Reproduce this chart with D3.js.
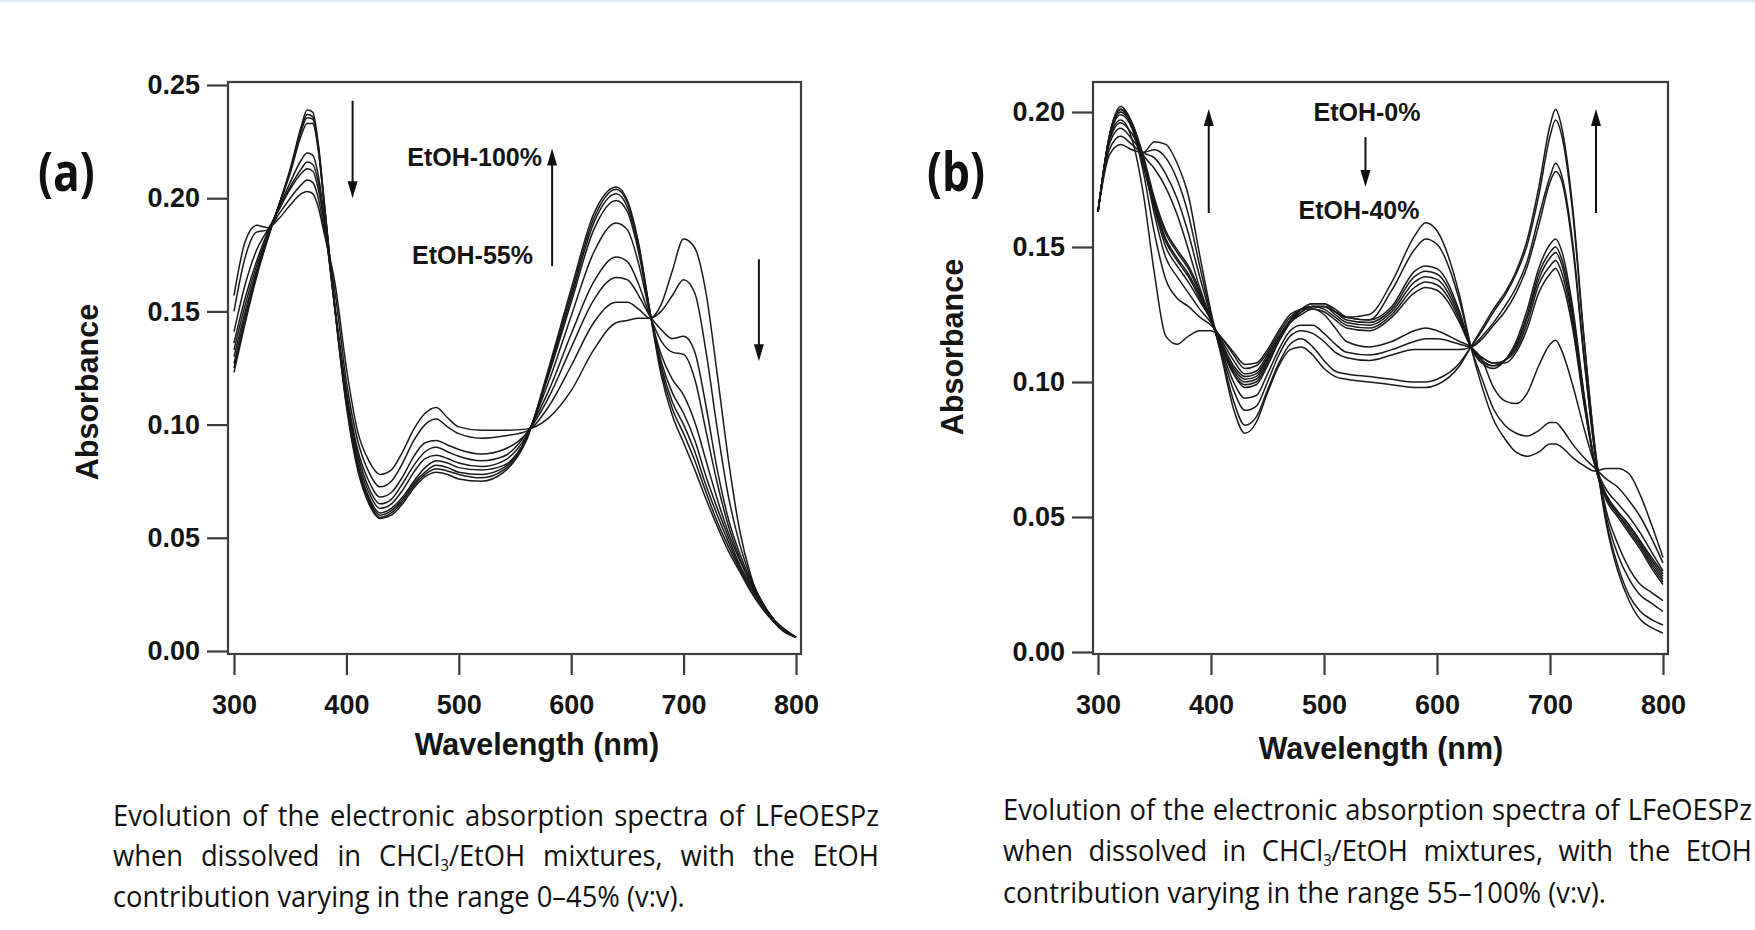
<!DOCTYPE html>
<html>
<head>
<meta charset="utf-8">
<script src="https://cdn.jsdelivr.net/npm/d3@7/dist/d3.min.js"></script>
<style>
  body { margin: 0; background: #fff; }
  .tick text { font-family: "Liberation Sans", Arial, sans-serif; font-weight: bold; font-size: 27px; fill: #151515; }
  .axisTitle { font-family: "Liberation Sans", Arial, sans-serif; font-weight: bold; font-size: 30.5px; fill: #151515; }
  .note { font-family: "Liberation Sans", Arial, sans-serif; font-weight: bold; font-size: 25px; fill: #151515; }
  .panelLabel { font-family: "Open Sans", "Liberation Sans", sans-serif; font-weight: bold; font-size: 54px; fill: #111; }
  .caption { font-family: "Open Sans", "Noto Sans", sans-serif; font-size: 29.5px; fill: #111; }
</style>
</head>
<body>
<svg id="fig" width="1755" height="930"></svg>
<script>
// ---- panel (a) data ----
const wavelengthsA = [300, 310, 320, 330, 340, 350, 360, 365, 370, 375, 380, 390, 400, 410, 420, 430, 440, 450, 460, 470, 480, 490, 500, 520, 540,
    560, 580, 600, 620, 640, 650, 660, 670, 680, 690,
    700, 710, 720, 730, 740, 750, 760, 780, 800]

const spectraA = [
    [.123, .145, .165, .182, .197, .213, .232, .239, .238, .224, .200, .150, .108, .080, .065, .0585, .060, .065, .072, .077, .079, .078, .076, .075, .079,
        .093, .125, .160, .193, .205, .199, .180, .150, .122, .104,
        .092, .080, .067, .055, .044, .035, .026, .013, .006],
    [.125, .146, .166, .182, .197, .212, .231, .237, .236, .223, .199, .150, .109, .081, .066, .059, .061, .066, .073, .078, .0805, .0795, .078, .0765, .080,
        .093, .124, .158, .191, .204, .198, .179, .150, .124, .107,
        .096, .084, .070, .057, .046, .036, .027, .013, .006],
    [.127, .148, .167, .183, .197, .212, .230, .2355, .235, .222, .199, .151, .110, .082, .067, .060, .062, .067, .074, .079, .082, .081, .079, .078, .081,
        .094, .123, .156, .189, .202, .196, .178, .150, .126, .110,
        .100, .088, .073, .060, .048, .037, .028, .014, .006],
    [.130, .150, .168, .183, .197, .211, .228, .233, .233, .221, .198, .151, .111, .083, .068, .061, .063, .068, .075, .081, .084, .083, .081, .080, .082,
        .094, .122, .154, .186, .199, .194, .176, .150, .128, .114,
        .105, .093, .077, .063, .050, .038, .029, .014, .006],
    [.133, .153, .170, .184, .196, .207, .217, .220, .219, .210, .193, .150, .112, .085, .070, .063, .065, .071, .079, .085, .0865, .085, .083, .0815, .084,
        .095, .119, .148, .176, .189, .186, .171, .149, .131, .120,
        .113, .101, .084, .067, .052, .040, .030, .014, .006],
    [.136, .156, .172, .185, .195, .205, .213, .216, .215, .207, .191, .150, .113, .087, .072, .065, .067, .074, .082, .088, .090, .088, .086, .084, .086,
        .096, .115, .140, .163, .174, .172, .162, .148, .137, .132,
        .131, .120, .097, .074, .055, .041, .030, .014, .006],
    [.141, .162, .177, .186, .195, .204, .211, .213, .212, .204, .190, .151, .115, .089, .075, .068, .070, .077, .086, .092, .093, .091, .089, .087, .089,
        .096, .112, .134, .155, .165, .164, .157, .148, .142, .138,
        .139, .132, .108, .080, .058, .043, .031, .014, .006],
    [.150, .174, .185, .186, .193, .200, .206, .208, .207, .200, .187, .158, .119, .093, .079, .0725, .075, .083, .093, .100, .1025, .099, .096, .094, .095,
        .097, .108, .126, .145, .154, .154, .151, .147, .150, .157,
        .164, .158, .132, .098, .068, .047, .032, .014, .006],
    [.157, .181, .188, .187, .191, .197, .202, .203, .202, .196, .185, .162, .125, .097, .084, .078, .080, .088, .098, .105, .1076, .103, .099, .0975, .0975,
        .098, .103, .115, .133, .145, .146, .147, .147, .153, .168,
        .182, .178, .158, .122, .084, .053, .033, .013, .006]
]

// ---- panel (b) data ----
const wavelengthsB = [300, 310, 320, 330, 340, 350, 360, 370, 380, 390,
    400, 410, 420, 430, 440, 450, 460, 470, 480, 490,
    500, 510, 520, 540, 560, 580, 590, 600, 620, 630,
    640, 650, 660, 670, 680, 690, 700, 705, 710, 720,
    730, 740, 750, 760, 770, 780, 790, 800]

const spectraB = [
    [.163, .190, .197, .190, .170, .140, .117, .114, .117, .119,
        .119, .116, .111, .1065, .107, .112, .119, .125, .127, .128,
        .128, .126, .124, .125, .137, .154, .159, .156, .132, .113,
        .098, .086, .079, .074, .0725, .074, .077, .077, .076, .072,
        .069, .067, .068, .068, .066, .058, .047, .035],
    [.163, .190, .199, .194, .178, .155, .138, .131, .128, .124,
        .121, .116, .110, .105, .106, .111, .118, .124, .127, .128,
        .128, .126, .124, .123, .134, .149, .153, .151, .130, .113,
        .101, .090, .084, .081, .080, .082, .085, .085, .083, .077,
        .072, .068, .064, .061, .056, .050, .042, .033],
    [.163, .191, .202, .196, .182, .162, .146, .139, .133, .127,
        .122, .115, .108, .103, .104, .110, .117, .123, .127, .127,
        .125, .120, .115, .113, .115, .119, .120, .119, .115, .113,
        .108, .098, .093, .092, .096, .106, .114, .1155, .112, .099,
        .083, .069, .060, .055, .050, .044, .037, .030],
    [.163, .191, .201, .195, .180, .164, .150, .143, .137, .130,
        .123, .114, .106, .102, .103, .109, .116, .122, .125, .127,
        .126, .123, .120, .119, .124, .133, .135, .134, .122, .113,
        .109, .107, .107, .111, .120, .133, .140, .142, .138, .120,
        .092, .069, .058, .052, .047, .041, .035, .029],
    [.163, .190, .200, .195, .181, .165, .152, .145, .139, .131,
        .123, .113, .105, .101, .102, .109, .116, .122, .126, .128,
        .127, .124, .121, .120, .125, .135, .137, .136, .123, .113,
        .109, .107, .108, .112, .122, .136, .143, .145, .141, .122,
        .093, .069, .058, .052, .047, .041, .034, .028],
    [.163, .190, .200, .195, .182, .166, .153, .146, .140, .132,
        .123, .113, .104, .100, .101, .108, .116, .122, .126, .128,
        .128, .125, .122, .121, .126, .137, .139, .138, .124, .113,
        .108, .106, .108, .113, .124, .138, .146, .148, .144, .124,
        .094, .069, .057, .051, .046, .040, .033, .027],
    [.163, .191, .201, .196, .183, .167, .155, .148, .142, .133,
        .123, .112, .103, .099, .100, .107, .115, .122, .127, .129,
        .129, .126, .123, .122, .127, .139, .141, .140, .125, .113,
        .107, .106, .108, .114, .125, .140, .148, .150, .146, .126,
        .095, .069, .057, .051, .045, .039, .032, .026],
    [.163, .191, .201, .196, .184, .168, .156, .149, .143, .134,
        .123, .112, .103, .098, .099, .106, .115, .122, .127, .129,
        .129, .127, .124, .123, .128, .141, .143, .142, .126, .113,
        .107, .105, .108, .115, .127, .142, .151, .153, .149, .128,
        .096, .069, .056, .050, .044, .038, .031, .025],
    [.163, .189, .196, .192, .184, .179, .172, .162, .149, .135,
        .123, .111, .100, .094, .095, .103, .112, .119, .121, .121,
        .118, .114, .111, .110, .112, .115, .116, .116, .114, .113,
        .116, .121, .126, .133, .143, .158, .174, .178, .175, .150,
        .109, .073, .052, .040, .031, .025, .022, .019],
    [.163, .188, .194, .190, .185, .183, .177, .168, .155, .139,
        .124, .110, .097, .0895, .091, .100, .110, .117, .119, .118,
        .115, .111, .109, .108, .110, .112, .112, .112, .112, .113,
        .117, .122, .128, .135, .145, .161, .176, .181, .177, .152,
        .110, .073, .050, .036, .027, .021, .018, .015],
    [.163, .186, .191, .188, .185, .186, .183, .175, .162, .143,
        .125, .109, .093, .084, .087, .097, .107, .114, .116, .113,
        .108, .104, .103, .102, .101, .100, .100, .101, .107, .113,
        .119, .126, .132, .140, .151, .169, .191, .197, .192, .163,
        .116, .075, .048, .032, .021, .015, .012, .010],
    [.163, .184, .188, .186, .185, .189, .188, .181, .169, .147,
        .126, .108, .090, .081, .085, .096, .106, .112, .113, .110,
        .105, .102, .101, .100, .099, .098, .098, .099, .106, .113,
        .120, .127, .133, .141, .153, .172, .195, .201, .195, .165,
        .117, .075, .047, .030, .019, .012, .009, .007]
]

const ticksA = [0, 0.05, 0.10, 0.15, 0.20, 0.25]
const ticksB = [0, 0.05, 0.10, 0.15, 0.20]
const ticksX = [300, 400, 500, 600, 700, 800]

// arrows [wavelength, from, to] and labels [wavelength, value, text, anchor]
const arrowsA = [[405.5, 0.243, 0.200], [583, 0.170, 0.222], [767, 0.173, 0.128]]
const notesA = [[574, 0.218, "EtOH-100%", "end"], [566, 0.175, "EtOH-55%", "end"]]
const arrowsB = [[398, 0.1626, 0.2011], [536.7, 0.1907, 0.1722], [740.7, 0.1626, 0.2011]]
const notesB = [[538, 0.200, "EtOH-0%", "middle"], [531, 0.1637, "EtOH-40%", "middle"]]

const captionA = ["Evolution of the electronic absorption spectra of LFeOESPz",
    "when dissolved in CHCl{3}/EtOH mixtures, with the EtOH",
    "contribution varying in the range 0\u201345% (v:v)."]
const captionB = ["Evolution of the electronic absorption spectra of LFeOESPz",
    "when dissolved in CHCl{3}/EtOH mixtures, with the EtOH",
    "contribution varying in the range 55\u2013100% (v:v)."]

const svg = d3.select("#fig")

svg.append("line").attr("x1", 0).attr("x2", 1755).attr("y1", 1).attr("y2", 1)
    .attr("stroke", "#dfe8ef").attr("stroke-width", 2)

// the caption font is a condensed face; squeeze a normal one to the width of the last line of (a)
let captionScale = 0.72
{
    const probe = svg.append("text").attr("class", "caption").text(captionA[2])
    captionScale = 572 / probe.node().getComputedTextLength()
    probe.remove()
}

function drawPanel(p) {
    const x = d3.scaleLinear().domain([300, 800]).range(p.xRange)
    const y = d3.scaleLinear().domain([0, p.yMax]).range(p.yRange)
    const g = svg.append("g")

    // frame
    g.append("rect")
        .attr("x", p.frame[0]).attr("y", p.frame[1])
        .attr("width", p.frame[2] - p.frame[0]).attr("height", p.frame[3] - p.frame[1])
        .attr("fill", "none").attr("stroke", "#3c3c3c").attr("stroke-width", 2.2)

    const yAxis = g.append("g")
        .attr("transform", "translate(" + p.frame[0] + ",0)")
        .call(d3.axisLeft(y).tickValues(p.ticks).tickFormat(d3.format(".2f")).tickSize(21).tickSizeOuter(0).tickPadding(7))
    const xAxis = g.append("g")
        .attr("transform", "translate(0," + p.frame[3] + ")")
        .call(d3.axisBottom(x).tickValues(ticksX).tickFormat(d3.format("d")).tickSize(21).tickSizeOuter(0).tickPadding(20))
    ;[yAxis, xAxis].forEach(a => {
        a.select(".domain").remove()
        a.selectAll("line").attr("stroke", "#3c3c3c").attr("stroke-width", 2.2)
        a.selectAll("text").attr("fill", "#151515")
    })

    g.append("text").attr("class", "axisTitle")
        .attr("text-anchor", "middle")
        .attr("transform", "translate(" + p.yTitle[0] + "," + p.yTitle[1] + ") rotate(-90)")
        .text("Absorbance")
    g.append("text").attr("class", "axisTitle")
        .attr("text-anchor", "middle")
        .attr("x", p.xTitle[0]).attr("y", p.xTitle[1])
        .text("Wavelength (nm)")

    // spectra
    const line = d3.line()
        .x((d, i) => x(p.wl[i]))
        .y(d => y(d))
        .curve(d3.curveMonotoneX)
    g.selectAll(".spec")
        .data(p.spectra)
        .enter()
        .append("path")
        .attr("d", line)
        .attr("fill", "none")
        .attr("stroke", "#1a1a1a")
        .attr("stroke-width", 1.5)

    // arrows
    p.arrows.forEach(a => {
        const ax = x(a[0]), y0 = y(a[1]), y1 = y(a[2])
        const dir = y1 > y0 ? 1 : -1
        g.append("line")
            .attr("x1", ax).attr("x2", ax).attr("y1", y0).attr("y2", y1 - dir * 14)
            .attr("stroke", "#111").attr("stroke-width", 2)
        g.append("path")
            .attr("d", "M" + ax + "," + y1 + "L" + (ax - 5) + "," + (y1 - dir * 17) + "L" + (ax + 5) + "," + (y1 - dir * 17) + "Z")
            .attr("fill", "#111")
    })
    p.notes.forEach(n => {
        g.append("text").attr("class", "note")
            .attr("x", x(n[0])).attr("y", y(n[1])).attr("dy", "0.36em")
            .attr("text-anchor", n[3])
            .text(n[2])
    })

    g.append("text").attr("class", "panelLabel")
        .attr("transform", "translate(" + p.label[0] + "," + p.label[1] + ") scale(0.82,1)")
        .text(p.labelText)

    drawCaption(p.caption, p.capX, p.capY)
}

// justified caption; last line is left aligned
function drawCaption(lines, xs, ys) {
    lines.forEach((line, i) => {
        const g = svg.append("g")
            .attr("transform", "translate(" + xs[0] + "," + ys[i] + ") scale(" + captionScale + ",1)")
        if (i === lines.length - 1) {
            g.append("text").attr("class", "caption").text(line)
            return
        }
        const words = line.split(" ")
        const nodes = words.map(w => {
            const t = g.append("text").attr("class", "caption")
            const m = w.match(/^(.*)\{(.*)\}(.*)$/)
            if (m) {
                t.append("tspan").text(m[1])
                t.append("tspan").attr("dy", 5).attr("font-size", "16px").text(m[2])
                t.append("tspan").attr("dy", -5).text(m[3])
            }
            else t.text(w)
            return t
        })
        const widths = nodes.map(t => t.node().getComputedTextLength())
        const span = (xs[1] - xs[0]) / captionScale
        const gap = (span - d3.sum(widths)) / (words.length - 1)
        let cx = 0
        nodes.forEach((t, j) => {
            t.attr("x", cx)
            cx += widths[j] + gap
        })
    })
}

drawPanel({
    wl: wavelengthsA, spectra: spectraA, yMax: 0.25, ticks: ticksA,
    xRange: [234, 796], yRange: [651, 85], frame: [228, 82, 801, 654],
    yTitle: [98, 392], xTitle: [537, 755],
    arrows: arrowsA, notes: notesA,
    label: [38, 191], labelText: "(a)",
    caption: captionA, capX: [113, 879], capY: [826, 866, 907]
})

drawPanel({
    wl: wavelengthsB, spectra: spectraB, yMax: 0.20, ticks: ticksB,
    xRange: [1098, 1663], yRange: [652, 112], frame: [1093, 82, 1668, 654],
    yTitle: [963, 347], xTitle: [1381, 759],
    arrows: arrowsB, notes: notesB,
    label: [927, 191], labelText: "(b)",
    caption: captionB, capX: [1003, 1752], capY: [820, 861, 903]
})
</script>
</body>
</html>
